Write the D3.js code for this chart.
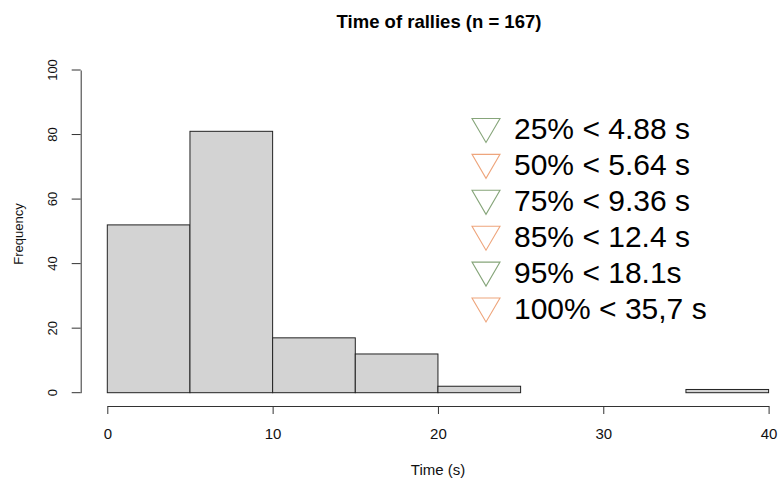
<!DOCTYPE html>
<html><head><meta charset="utf-8">
<script src="https://cdn.jsdelivr.net/npm/d3@7"></script>
<style>body{margin:0;background:#fff;} text{font-family:"Liberation Sans",Arial,sans-serif;}</style>
</head><body>
<svg id="c" width="779" height="479"></svg>
<script>
const binStarts = [0,5,10,15,20,25,30,35];
const binWidth = 5;
const counts = [52,81,17,12,2,0,0,1];
const xTicks = [0,10,20,30,40];
const yTicks = [0,20,40,60,80,100];
const legendLabels = ["25% < 4.88 s","50% < 5.64 s","75% < 9.36 s","85% < 12.4 s","95% < 18.1s","100% < 35,7 s"];
const legendColors = ["#86a57a","#eea57c","#86a57a","#eea57c","#86a57a","#eea57c"];

const svg = d3.select("#c");
const x = d3.scaleLinear().domain([0,40]).range([107.3,768.6]);
const y = d3.scaleLinear().domain([0,100]).range([392.7,70]);

// bars
svg.append("g").selectAll("rect").data(counts).join("rect")
  .attr("x",(d,i)=>x(binStarts[i]))
  .attr("y",d=>y(d))
  .attr("width",(d,i)=>x(binStarts[i]+binWidth)-x(binStarts[i]))
  .attr("height",d=>y(0)-y(d))
  .attr("fill","#d3d3d3").attr("stroke","#222").attr("stroke-width",1);

// x axis
const xa = svg.append("g").attr("transform","translate(0,406)")
  .call(d3.axisBottom(x).tickValues(xTicks).tickSize(8).tickSizeOuter(0).tickPadding(14).tickFormat(d3.format("d")));
xa.selectAll("text").attr("font-size",15).attr("fill","#111").attr("font-family","Liberation Sans, Arial, sans-serif");
xa.selectAll("line,path").attr("stroke","#333");

// y axis
const ya = svg.append("g").attr("transform","translate(80.7,0)")
  .call(d3.axisLeft(y).tickValues(yTicks).tickSize(9).tickSizeOuter(0).tickPadding(0).tickFormat(d3.format("d")));
ya.selectAll("path,line").attr("stroke","#333");
ya.selectAll("text").attr("font-size",13).attr("fill","#111")
  .attr("font-family","Liberation Sans, Arial, sans-serif")
  .attr("text-anchor","middle").attr("dy",null).attr("x",null)
  .attr("transform",d=>`translate(-28,${y(d)}) rotate(-90) translate(0,4)`)
  .attr("y",0);
ya.selectAll(".tick").attr("transform",null);
ya.selectAll(".tick line").attr("y1",d=>y(d)).attr("y2",d=>y(d));

// title & labels
svg.append("text").attr("x",439).attr("y",27.5).attr("text-anchor","middle")
  .attr("font-size",18.5).attr("font-weight","bold").attr("fill","#000").text("Time of rallies (n = 167)");
svg.append("text").attr("x",438).attr("y",475).attr("text-anchor","middle")
  .attr("font-size",15).attr("fill","#111").text("Time (s)");
svg.append("text").attr("transform","translate(23.3,234) rotate(-90)").attr("text-anchor","middle")
  .attr("font-size",13).attr("fill","#111").text("Frequency");

// legend
const lg = svg.append("g");
const rowY = d3.scaleLinear().domain([0,1]).range([130,165.9]);
legendLabels.forEach((t,i)=>{
  const cy = rowY(i);
  lg.append("path").attr("d",`M${472},${cy-11.5} L${500},${cy-11.5} L${486},${cy+12.5} Z`)
    .attr("fill","none").attr("stroke",legendColors[i]).attr("stroke-width",1.1);
  lg.append("text").attr("x",514).attr("y",cy+9.3).attr("font-size",30).attr("fill","#000").text(t);
});
</script>
</body></html>
